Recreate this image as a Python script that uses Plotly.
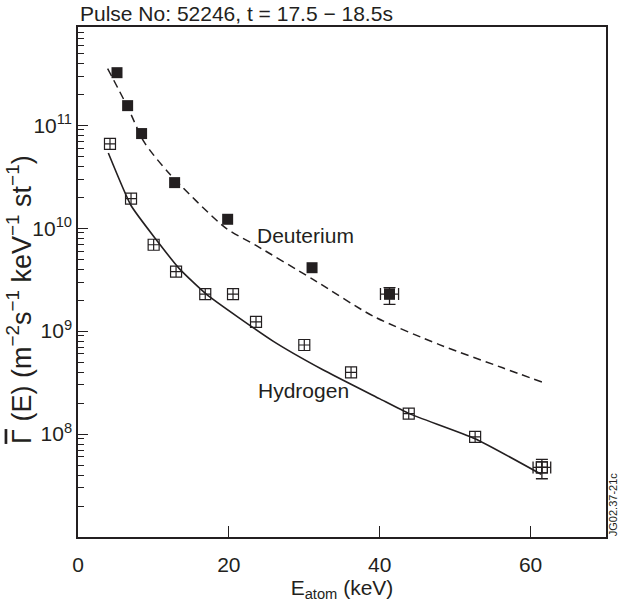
import math
import plotly.graph_objects as go

# ---- data ----
D_E = [5.17, 6.58, 8.43, 12.81, 19.84, 31.03, 41.3]
D_flux = [3.24e11, 1.55e11, 8.3e10, 2.77e10, 1.22e10, 4.13e9, 2.29e9]

H_E = [4.24, 7.03, 10.03, 13.0, 16.87, 20.55, 23.6, 30.0, 36.2, 43.85, 52.65, 61.5]
H_flux = [6.6e10, 1.94e10, 6.9e9, 3.78e9, 2.29e9, 2.29e9, 1.23e9, 7.33e8, 3.98e8, 1.58e8, 9.4e7, 4.74e7]

# error bars (only on the last point of each series)
D_err_E = [1.2]
D_err_up = [0.36e9]
D_err_down = [0.47e9]
H_err_E = [1.17]
H_err_up = [0.93e7]
H_err_down = [1.06e7]

# fitted curves
D_fit_E = [3.93, 6.58, 8.8, 12.1, 19.6, 23.6, 31.1, 39.1, 47.9, 56.3, 61.5]
D_fit_flux = [3.55e11, 1.5e11, 6.8e10, 3.4e10, 1.0e10, 6.8e9, 3.2e9, 1.4e9, 7.4e8, 4.4e8, 3.2e8]
H_fit_E = [4.02, 7.03, 10.35, 13.4, 17.0, 25.8, 32.4, 39.96, 43.9, 52.65, 61.4]
H_fit_flux = [5.37e10, 1.66e10, 7.76e9, 4.07e9, 2.29e9, 8.05e8, 4.24e8, 2.21e8, 1.58e8, 9.02e7, 4.07e7]

x_ticks = [0, 20, 40, 60]
y_ticks = [1e8, 1e9, 1e10, 1e11]
y_ticktext = ["10<sup>8</sup>", "10<sup>9</sup>", "10<sup>10</sup>", "10<sup>11</sup>"]

INK = "#231f20"
FONT = "Liberation Sans"

fig = go.Figure()

fig.add_trace(go.Scatter(x=D_fit_E, y=D_fit_flux, mode="lines",
                         line=dict(color=INK, width=1.5, dash="8px,5px", shape="spline", smoothing=0.7),
                         showlegend=False, hoverinfo="skip"))
fig.add_trace(go.Scatter(x=H_fit_E, y=H_fit_flux, mode="lines",
                         line=dict(color=INK, width=1.6, shape="spline", smoothing=0.5),
                         showlegend=False, hoverinfo="skip"))

# error bar points
fig.add_trace(go.Scatter(x=D_E[-1:], y=D_flux[-1:], mode="markers",
                         marker=dict(symbol="square", size=11, color=INK),
                         error_x=dict(type="data", array=D_err_E, color=INK, thickness=1.3, width=6),
                         error_y=dict(type="data", array=D_err_up, arrayminus=D_err_down,
                                      color=INK, thickness=1.3, width=6),
                         showlegend=False))
fig.add_trace(go.Scatter(x=H_E[-1:], y=H_flux[-1:], mode="markers",
                         marker=dict(symbol="square-cross-open", size=11, color=INK,
                                     line=dict(width=1.2, color=INK)),
                         error_x=dict(type="data", array=H_err_E, color=INK, thickness=1.3, width=6),
                         error_y=dict(type="data", array=H_err_up, arrayminus=H_err_down,
                                      color=INK, thickness=1.3, width=6),
                         showlegend=False))

fig.add_trace(go.Scatter(x=D_E, y=D_flux, mode="markers",
                         marker=dict(symbol="square", size=11, color=INK),
                         showlegend=False))
fig.add_trace(go.Scatter(x=H_E, y=H_flux, mode="markers",
                         marker=dict(symbol="square-cross-open", size=11, color=INK,
                                     line=dict(width=1.2, color=INK)),
                         showlegend=False))

minor_vals = [m * 10 ** d for d in range(6, 12) for m in range(2, 10)]

fig.update_layout(
    width=620, height=608,
    margin=dict(l=78, r=13, t=27, b=52),
    paper_bgcolor="white", plot_bgcolor="white",
    font=dict(family=FONT, size=21, color=INK),
    xaxis=dict(range=[0, 70], tickmode="array", tickvals=x_ticks,
               ticks="inside", ticklen=11, tickwidth=1.3, tickcolor=INK,
               ticklabelstandoff=8,
               showline=True, linecolor=INK, linewidth=1.5, mirror=True,
               showgrid=False, zeroline=False,
               title=dict(text="E<sub>atom</sub> (keV)", standoff=5,
                          font=dict(size=21))),
    yaxis=dict(type="log", range=[7, math.log10(9e11)],
               tickmode="array", tickvals=y_ticks, ticktext=y_ticktext,
               ticks="inside", ticklen=10, tickwidth=1.3, tickcolor=INK,
               showline=True, linecolor=INK, linewidth=1.5, mirror=True,
               showgrid=False, zeroline=False,
               minor=dict(tickmode="array", tickvals=minor_vals, ticks="inside",
                          ticklen=6, tickwidth=1.1, tickcolor=INK, showgrid=False)),
    annotations=[
        dict(text="Pulse No: 52246, t = 17.5 − 18.5s", xref="paper", yref="paper",
             x=0, y=1, xanchor="left", yanchor="bottom", showarrow=False,
             font=dict(size=21), xshift=0, yshift=0),
        dict(text="Deuterium", x=30.1, y=9.925, xref="x", yref="y",
             showarrow=False, font=dict(size=21)),
        dict(text="Hydrogen", x=29.9, y=8.42, xref="x", yref="y",
             showarrow=False, font=dict(size=21)),
        dict(text="<span style=\"text-decoration:overline\">Γ</span> (E) (m<sup>−2</sup>s<sup>−1</sup> keV<sup>−1</sup> st<sup>−1</sup>)",
             xref="paper", yref="paper", x=(19 - 78) / 529, y=(556 - 310) / 529, textangle=-90,
             xanchor="center", yanchor="middle", showarrow=False, font=dict(size=27)),
        dict(text="JG02.37-21c", xref="paper", yref="paper", x=(614 - 78) / 529, y=(556 - 522) / 529,
             xanchor="center", yanchor="middle", textangle=-90, showarrow=False,
             font=dict(size=11)),
    ],
)

fig.write_html("out.html")
